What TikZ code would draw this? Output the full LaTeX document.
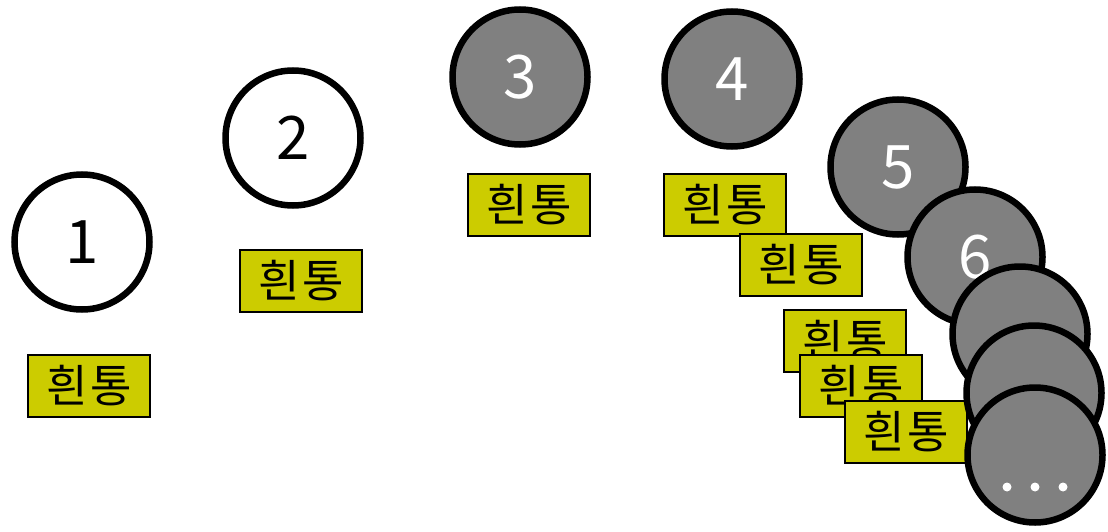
\documentclass[tikz,border=0pt]{standalone}
\usepackage{fontspec}
\newfontfamily\kor{Noto Sans CJK KR}
\definecolor{labelyellow}{HTML}{CCCC00}
\definecolor{ballgray}{HTML}{808080}
\tikzset{
  ball/.style={circle, draw=black, line width=6.5pt, minimum size=135pt, inner sep=0pt,
    font=\kor\fontsize{60}{60}\selectfont},
  whiteball/.style={ball, fill=white, text=black},
  grayball/.style={ball, fill=ballgray, text=white},
  tag/.style={rectangle, draw=black, line width=2pt, fill=labelyellow, minimum width=122pt,
    minimum height=62pt, inner sep=0pt, font=\kor\fontsize{45}{45}\selectfont},
  dot/.style={circle, fill=white, minimum size=9pt, inner sep=0pt}
}
\newcommand{\tong}{흰\hspace{3pt}통}
\begin{document}
\begin{tikzpicture}[x=1pt,y=-1pt]
\useasboundingbox (0,0) rectangle (1108,532);
% labels
\node[tag] (t1) at (89,386) {\tong};
\node[tag] (t2) at (301,281) {\tong};
\node[tag] (t3) at (529,205) {\tong};
\node[tag] (t4) at (725,205) {\tong};
\node[tag] (t5) at (801,265) {\tong};
\node[tag] (t6) at (845,341) {\tong};
\node[tag] (t7) at (861,386) {\tong};
\node[tag] (t8) at (906,432) {\tong};
% balls
\node[whiteball] (b1) at (82,242) {1};
\node[whiteball] (b2) at (293,138) {2};
\node[grayball] (b3) at (520,77) {3};
\node[grayball] (b4) at (732,79) {4};
\node[grayball] (b5) at (898,167) {5};
\node[grayball] (b6) at (975,257) {6};
\node[grayball] (b7) at (1020,334) {};
\node[grayball] (b8) at (1034,393) {};
\node[grayball] (b9) at (1035,455) {};
\node[dot] (d1) at (1007,487) {};
\node[dot] (d2) at (1035,487) {};
\node[dot] (d3) at (1063,487) {};
\end{tikzpicture}
\end{document}
